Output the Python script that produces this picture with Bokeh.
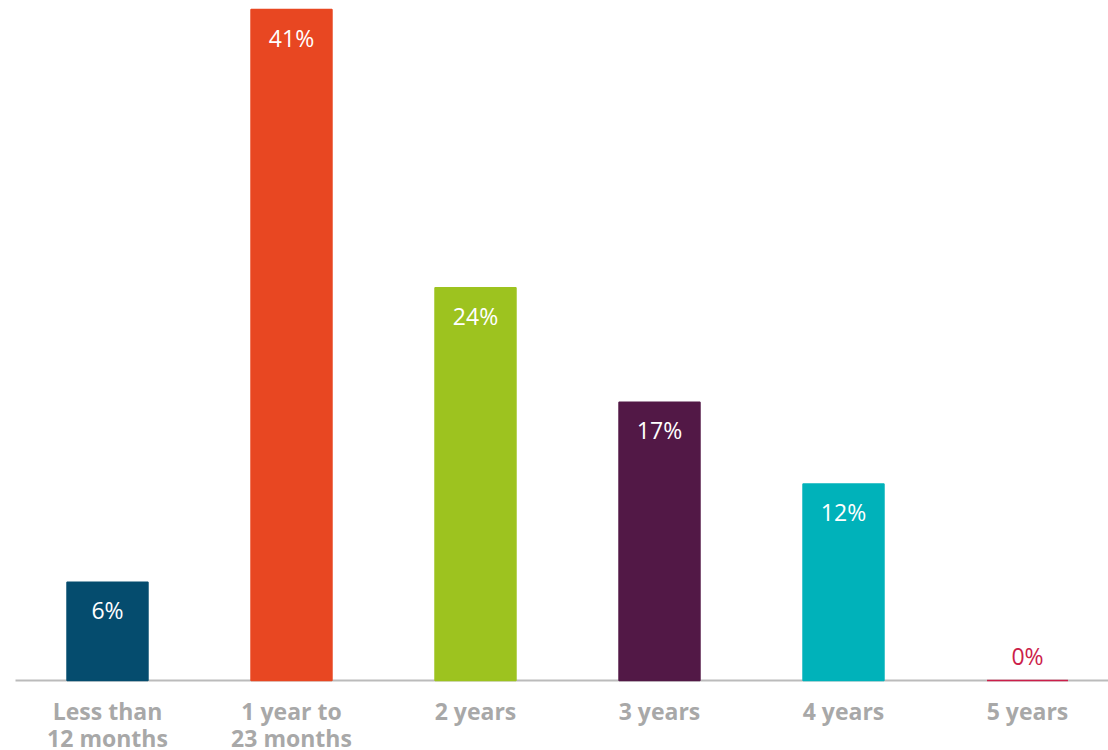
from bokeh.plotting import figure
from bokeh.models import ColumnDataSource, Range1d
from bokeh.core.properties import value
from bokeh.embed import file_html
from bokeh.resources import INLINE

categories_line1 = ["Less than", "1 year to", "2 years", "3 years", "4 years", "5 years"]
categories_line2 = ["12 months", "23 months", "", "", "", ""]
values = [6, 41, 24, 17, 12, 0]
colors = ["#054C6E", "#E84722", "#9DC31F", "#521846", "#00B2BA", "#CC1E4A"]

xs = list(range(len(values)))
labels = [f"{v}%" for v in values]
label_offsets = [28 if v >= 3 else -25 for v in values]
label_colors = ["#FFFFFF" if v >= 3 else c for v, c in zip(values, colors)]

src = ColumnDataSource(dict(x=xs, top=values, color=colors, label=labels,
                            off=label_offsets, lcolor=label_colors,
                            l1=categories_line1, l2=categories_line2,
                            zero=[0] * len(values)))

p = figure(width=1108, height=750, output_backend="svg", toolbar_location=None,
           x_range=Range1d(-0.5815, 5.4402), y_range=Range1d(-4.277, 41.55),
           min_border=0, outline_line_color=None)
p.axis.visible = False
p.grid.visible = False
p.background_fill_color = "white"

p.segment(x0=-0.5, y0=0, x1=5.45, y1=0, line_color="#BBBBBB", line_width=2)

p.vbar(x="x", top="top", bottom=0, width=0.44, fill_color="color",
       line_color="color", line_width=1.5, source=src)

p.text(x="x", y="top", text="label", y_offset="off", text_color="lcolor",
       text_align="center", text_baseline="middle", text_font=value("Open Sans"),
       text_font_size="23px", source=src)

p.text(x="x", y="zero", text="l1", y_offset=30, text_color="#A8A8A8",
       text_align="center", text_baseline="middle", text_font=value("Open Sans"),
       text_font_style="bold", text_font_size="23px", source=src)
p.text(x="x", y="zero", text="l2", y_offset=57, text_color="#A8A8A8",
       text_align="center", text_baseline="middle", text_font=value("Open Sans"),
       text_font_style="bold", text_font_size="23px", source=src)

open("out.html", "w").write(file_html(p, INLINE))
